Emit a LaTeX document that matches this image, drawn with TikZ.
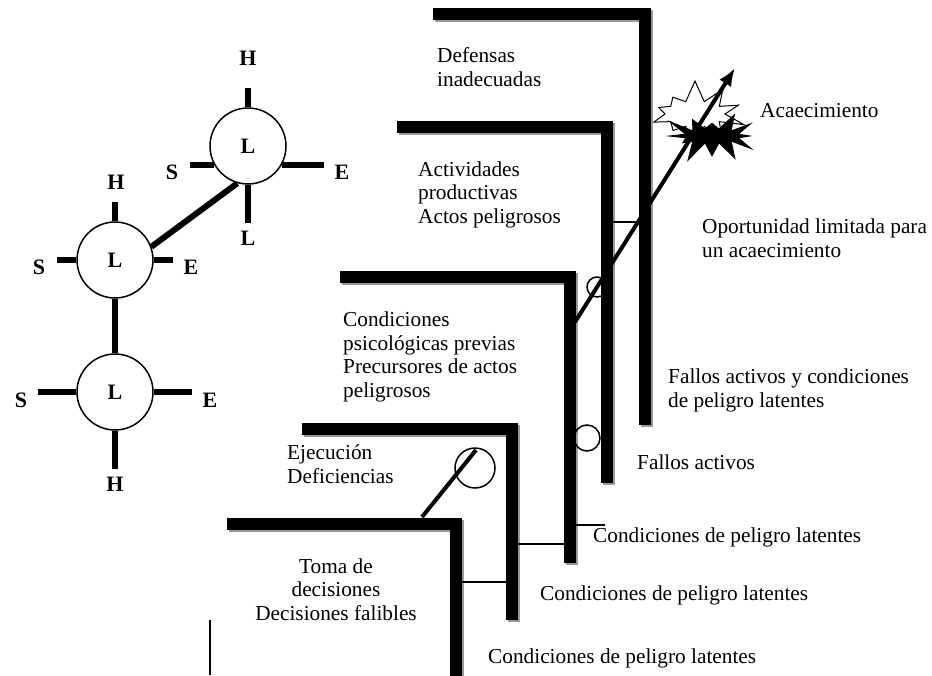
\documentclass[tikz,border=0pt]{standalone}
\usepackage{fontspec}
\setmainfont{Liberation Serif}
\usetikzlibrary{arrows.meta,shapes.symbols}
\tikzset{
  platebar/.style={line width=12pt, line join=miter},
  plateshadow/.style={line width=12pt, line join=miter, black!40},
  tickbar/.style={line width=6pt},
  shellnode/.style={draw, circle, line width=1.5pt, fill=white, minimum size=76pt, inner sep=0pt, font=\fontsize{22}{24}\selectfont\bfseries},
  shellabel/.style={font=\fontsize{22}{24}\selectfont\bfseries, inner sep=0pt},
  txt/.style={align=left, anchor=base west, inner sep=0pt},
  hole/.style={draw, circle, line width=1.5pt, inner sep=0pt},
  joinline/.style={line width=1.5pt},
  trajectory/.style={line width=4pt},
  burst/.style={starburst, draw, line width=1pt, inner sep=0pt, starburst points=10, starburst point height=22pt}
}

\begin{document}
\begin{tikzpicture}[x=1pt, y=-1pt, >=Latex, every node/.style={font=\fontsize{21.3}{23.5}\selectfont}]
  \useasboundingbox (0,0) rectangle (932,675);

  % SHELL circles
  \node[shellnode] (s1) at (248,146) {L};
  \node[shellnode] (s2) at (115,260) {L};
  \node[shellnode] (s3) at (115,392) {L};
  \draw[tickbar] (s1.north) -- ++(0,-19);
  \draw[tickbar] (s1.209) -- ++(-24,0);
  \draw[tickbar] (s1.331) -- ++(42,0);
  \draw[tickbar] (s1.south) -- ++(0,38);
  \draw[tickbar] (s2.north) -- ++(0,-19);
  \draw[tickbar] (s2.west) -- ++(-19,0);
  \draw[tickbar] (s2.east) -- ++(19,0);
  \draw[tickbar] (s3.west) -- ++(-38,0);
  \draw[tickbar] (s3.east) -- ++(38,0);
  \draw[tickbar] (s3.south) -- ++(0,38);
  \draw[tickbar] (s2.20) -- (s1.254);
  \draw[tickbar] (s2.south) -- (s3.north);
  \node[shellabel] (h1) at (248,58) {H};
  \node[shellabel] (sa1) at (172,172) {S};
  \node[shellabel] (e1) at (342,172) {E};
  \node[shellabel] (l1) at (248,238) {L};
  \node[shellabel] (h2) at (116,182) {H};
  \node[shellabel] (sa2) at (39,267) {S};
  \node[shellabel] (e2) at (191,267) {E};
  \node[shellabel] (sa3) at (21,400) {S};
  \node[shellabel] (e3) at (210,400) {E};
  \node[shellabel] (h3) at (115,484) {H};
  \coordinate (stubtop) at (210,620);
  \coordinate (stubbot) at (210,675);
  \draw[joinline] (stubtop) -- (stubbot);

  % explosions
  \node[burst, fill=white, minimum width=104pt, minimum height=70pt, random starburst=7] (flash) at (695,114) {};
  \node[burst, fill=black, starburst points=12, minimum width=98pt, minimum height=58pt, random starburst=23] (bang) at (712,136) {};

  % plates
  \foreach \xa/\ya/\xb/\yb in {433/14/645/425, 397/127/607/483, 340/277/570/563, 302/429/512/620, 227/524/456/690}{
    \draw[plateshadow] (\xa+2,\ya+2) -- (\xb+2,\ya+2) -- (\xb+2,\yb+2);
    \draw[platebar] (\xa,\ya) -- (\xb,\ya) -- (\xb,\yb);
  }
  \draw[joinline] (613,222) -- (640,222);
  \draw[joinline] (575,525) -- (605,525);
  \draw[joinline] (518,544) -- (565,544);
  \draw[joinline] (462,582) -- (507,582);

  % holes and trajectories
  \node[hole, minimum size=20pt] (hole1) at (597,287) {};
  \node[hole, minimum size=26pt] (hole2) at (587,438) {};
  \node[hole, minimum size=40pt] (hole3) at (475,468) {};
  \coordinate (start1) at (575,322);
  \coordinate (tip) at (735,68);
  \coordinate (start2) at (422,517);
  \coordinate (end2) at (476,450);
  \draw[trajectory, -{Latex[length=18pt,width=14pt]}] (start1) -- (tip);
  \draw[trajectory] (start2) -- (end2);

  % labels
  \node[txt] (defensas) at (437,86) {Defensas\\inadecuadas};
  \node[txt] (actividades) at (418,223) {Actividades\\productivas\\Actos peligrosos};
  \node[txt] (condiciones) at (343,397) {Condiciones\\psicológicas previas\\Precursores de actos\\peligrosos};
  \node[txt] (ejecucion) at (287,483) {Ejecución\\Deficiencias};
  \node[align=center, anchor=base, inner sep=0pt] (toma) at (336,620) {Toma de\\decisiones\\Decisiones falibles};
  \node[txt] (acaec) at (760,117) {Acaecimiento};
  \node[txt] (oportunidad) at (702,257) {Oportunidad limitada para\\un acaecimiento};
  \node[txt] (fallosyc) at (668,407) {Fallos activos y condiciones\\de peligro latentes};
  \node[txt] (fallos) at (637,469) {Fallos activos};
  \node[txt] (lat1) at (593,542) {Condiciones de peligro latentes};
  \node[txt] (lat2) at (540,600) {Condiciones de peligro latentes};
  \node[txt] (lat3) at (488,663) {Condiciones de peligro latentes};
\end{tikzpicture}
\end{document}
